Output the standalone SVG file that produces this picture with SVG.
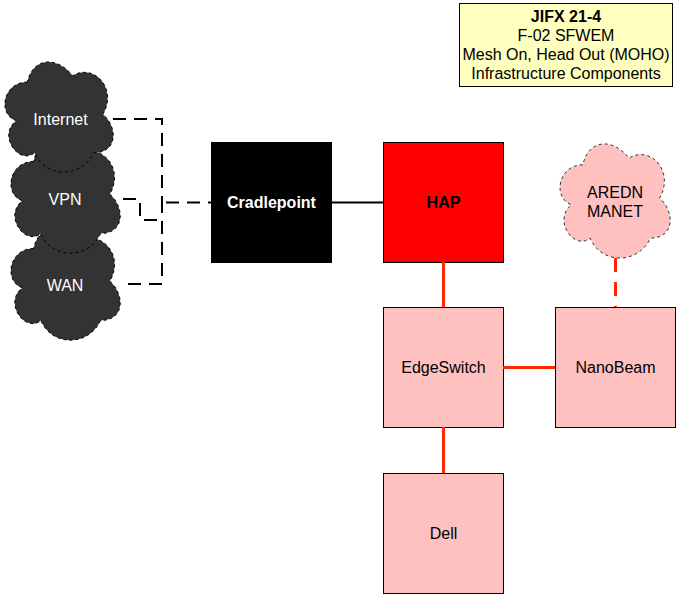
<svg xmlns="http://www.w3.org/2000/svg" width="676" height="594" viewBox="0 0 676 594">
<style>
text{font-family:"Liberation Sans",Arial,Helvetica,sans-serif;font-size:16px;text-anchor:middle}
.b{font-weight:bold}
.w{fill:#ffffff}
.k{fill:#000000}
.cloudk{fill:#333333;stroke:#000000;stroke-width:1;stroke-dasharray:3 3}
.cloudp{fill:#FFC0C0;stroke:#333333;stroke-width:1;stroke-dasharray:3 3}
.box{stroke:#000000;stroke-width:1}
.pink{fill:#FFC0C0}
.lk{fill:none;stroke:#000000;stroke-width:2}
.lr{fill:none;stroke:#FF2800;stroke-width:3}
.dk{stroke-dasharray:13 8}
.dr{stroke-dasharray:14 10}
</style>
<rect x="0" y="0" width="676" height="594" fill="#ffffff"/>
<g id="title">
<rect x="459.5" y="3.5" width="213" height="83" fill="#FFFFC0" stroke="#000000" stroke-width="1"/>
<text x="566" y="21.5" class="b k">JIFX 21-4</text>
<text x="566" y="40.5" class="k">F-02 SFWEM</text>
<text x="566" y="59.7" class="k">Mesh On, Head Out (MOHO)</text>
<text x="566" y="79" class="k">Infrastructure Components</text>
</g>
<g id="wan">
<path class="cloudk" d="M33.5,248.5 C9.1,248.5 3,281.2 22.5,287.8 C3,302.2 25,333.6 40.8,320.5 C51.8,346.7 88.4,346.7 100.6,320.5 C125,320.5 125,294.3 109.8,281.2 C125,255 100.6,228.8 79.3,241.9 C64,222.3 39.6,222.3 33.5,248.5 Z"/>
<text x="65" y="291" class="w">WAN</text>
</g>
<g id="vpn">
<path class="cloudk" d="M33.5,161.5 C9.1,161.5 3,194.2 22.5,200.8 C3,215.2 25,246.6 40.8,233.5 C51.8,259.7 88.4,259.7 100.6,233.5 C125,233.5 125,207.3 109.8,194.2 C125,168 100.6,141.8 79.3,154.9 C64,135.3 39.6,135.3 33.5,161.5 Z"/>
<text x="65" y="205" class="w">VPN</text>
</g>
<g id="internet">
<path class="cloudk" d="M27.3,82.1 C3.1,82.1 -3,114.3 16.4,120.7 C-3,134.8 18.8,165.7 34.5,152.8 C45.4,178.5 81.7,178.5 93.8,152.8 C118,152.8 118,127.1 102.9,114.3 C118,88.6 93.8,62.9 72.6,75.7 C57.5,56.4 33.3,56.4 27.3,82.1 Z"/>
<text x="60.5" y="124.5" class="w">Internet</text>
</g>
<g id="aredn">
<path class="cloudp" d="M582.8,164.8 C558.2,164.8 552,198.1 571.7,204.8 C552,219.4 574.1,251.4 590.1,238.1 C601.2,264.7 638.1,264.7 650.4,238.1 C675,238.1 675,211.4 659.6,198.1 C675,171.5 650.4,144.8 628.9,158.1 C613.5,138.2 588.9,138.2 582.8,164.8 Z"/>
<text x="615" y="197.5" class="k">AREDN</text>
<text x="615" y="216.5" class="k">MANET</text>
</g>
<g id="cradlepoint">
<rect x="211.5" y="142.5" width="120" height="120" fill="#000000" class="box"/>
<text x="271.5" y="208" class="b w">Cradlepoint</text>
</g>
<g id="hap">
<rect x="383.5" y="142.5" width="120" height="120" fill="#FF0000" class="box"/>
<text x="443.5" y="208" class="b k">HAP</text>
</g>
<g id="edgeswitch">
<rect x="383.5" y="307.5" width="120" height="120" class="box pink"/>
<text x="443.5" y="373" class="k">EdgeSwitch</text>
</g>
<g id="nanobeam">
<rect x="555.5" y="307.5" width="120" height="120" class="box pink"/>
<text x="615.5" y="373" class="k">NanoBeam</text>
</g>
<g id="dell">
<rect x="383.5" y="473.5" width="120" height="120" class="box pink"/>
<text x="443.5" y="539" class="k">Dell</text>
</g>
<g id="connectors">
<path class="lk dk" d="M113,119 H162 V202"/>
<path class="lk dk" d="M123,199 H140 V220 H162"/>
<path class="lk dk" d="M128,284 H162 V202"/>
<path class="lk dk" d="M166,202.5 H211" stroke-dashoffset="0"/>
<path class="lk" d="M331,202.5 H383"/>
<path class="lr" d="M443.5,262 V307"/>
<path class="lr" d="M503,367.5 H555"/>
<path class="lr" d="M443.5,427 V473"/>
<path class="lr dr" d="M615.5,258 V307"/>
</g>
</svg>
